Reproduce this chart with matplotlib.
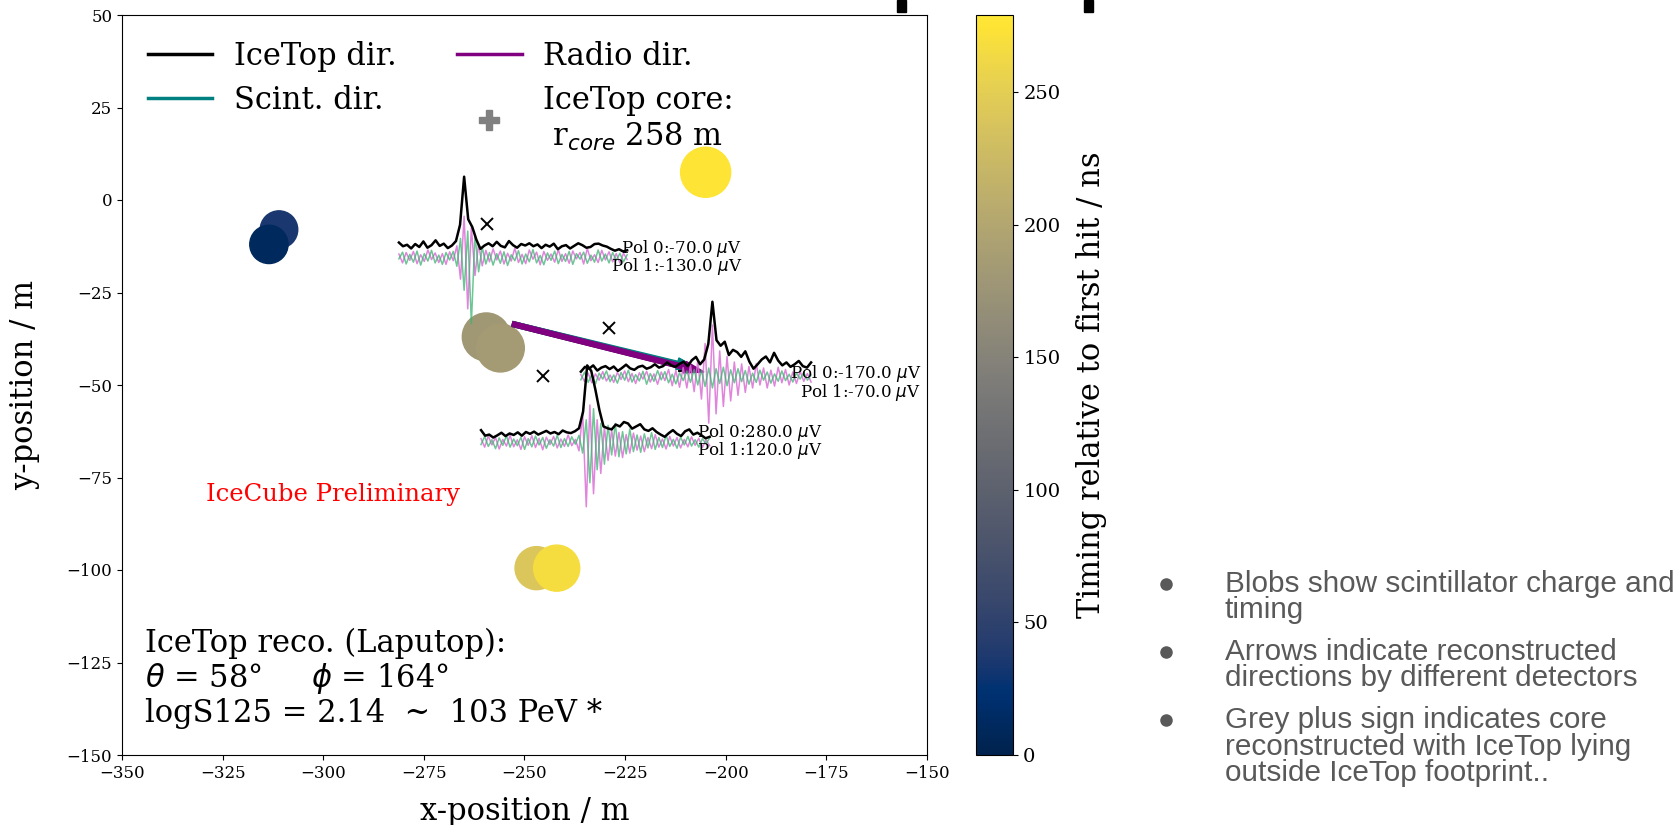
import numpy as np
import matplotlib.pyplot as plt
from matplotlib.lines import Line2D
from matplotlib.patches import Rectangle

plt.rcParams['font.family'] = 'DejaVu Serif'

W, H = 1681, 825

# scintillator panels: position / m, timing / ns, marker area (charge)
blob_x = [-311.0, -313.5, -259.5, -256.0, -205.0, -247.0, -242.0]
blob_y = [-8.0, -12.0, -37.0, -40.0, 7.5, -99.5, -99.5]
blob_t = [35, 10, 180, 185, 275, 240, 268]
blob_size = [730, 760, 1190, 1190, 1300, 960, 1100]

# radio antennas
ant_x = [-259.2, -229.0, -245.4]
ant_y = [-6.5, -34.6, -47.6]
pol0_amp = [-70.0, -170.0, 280.0]
pol1_amp = [-130.0, -70.0, 120.0]

# reconstructed directions (start point + vector), drawn as arrows
dir_names = ['IceTop dir.', 'Scint. dir.', 'Radio dir.']
dir_colors = ['black', 'teal', 'purple']
dir_x0 = [-253.0, -253.0, -253.0]
dir_y0 = [-33.5, -33.5, -33.5]
dir_dx = [46.5, 45.8, 47.6]
dir_dy = [-12.6, -12.0, -13.0]

# waveform envelopes (hilbert) and traces for each antenna, in plot units
env = [
    [1.2, 0.2, 0.6, -0.4, 0.8, 0.0, 1.5, -0.2, 0.5, 1.8, 0.3, 0.9, -0.3, 0.4, 1.6,
     6.0, 19.0, 7.5, 5.4, 2.0, -0.5, 0.4, 1.0, 0.2, 1.4, 0.3, -0.1, 1.6, 0.5, -0.2,
     0.8, 0.4, 1.0, 0.2, 0.7, -0.3, 0.6, 0.1, 0.9, -0.6, 0.2, 0.5, -0.4, 0.3, 1.0,
     0.5, -0.2, 0.0, 0.8, 0.9, 0.4, 0.1, -0.5, -1.0, -0.6, -1.2, -0.9],
    [-0.5, 0.8, 0.3, 1.2, -0.2, 0.6, 1.0, 0.2, 0.9, -0.3, 0.5, 1.4, 0.4, 0.0, 0.8,
     1.1, 0.3, 0.7, 1.5, 0.6, 1.0, 2.0, 1.2, 0.8, 1.6, 2.2, 1.0, 2.6, 3.5, 1.5,
     2.8, 7.0, 18.4, 8.0, 6.5, 7.6, 4.0, 5.4, 4.8, 3.5, 5.0, 2.2, 0.3, 1.5, 2.8,
     3.6, 2.0, 4.6, 2.5, 1.2, 2.0, 0.8, 1.5, 2.4, 1.0, 0.6, 2.0],
    [1.0, -0.5, -0.2, -1.0, -0.4, 0.3, -0.6, 0.1, -0.3, 0.4, -0.5, 0.5, 0.0, 0.6,
     -0.2, 0.3, 0.8, 0.1, 0.5, -0.1, 0.9, 0.4, 0.2, 0.7, 1.5, 6.0, 18.5, 17.0, 12.0,
     6.4, 2.0, 1.5, 1.2, 2.5, 2.0, 3.2, 2.8, 1.4, 2.0, 2.6, 1.2, 0.8, 1.5, 0.5,
     -0.2, -0.8, 0.2, 1.0, 0.0, -0.6, 0.7, 1.2, -0.2, 0.3, -0.4, -1.2, -0.8],
]
pol0 = [
    [0.8, -1.6, 1.2, -0.9, 1.5, -1.8, 0.6, -1.2, 1.9, -0.7, 1.1, -1.5, 0.9, -2.0,
     1.4, -1.0, 3.0, -6.0, 11.0, -14.0, 8.0, -5.0, 3.5, -2.4, 1.8, -1.3, 2.2, -0.8,
     1.6, -1.9, 1.0, -1.1, 2.4, -1.5, 0.7, -1.8, 1.9, -0.6, 1.3, -2.1, 1.5, -0.9,
     0.8, -1.4, 2.0, -1.2, 0.9, -1.7, 1.6, -0.5, 1.2, -1.9, 2.3, -1.0, 0.6, -1.5,
     1.8, -0.8, 1.4, -1.3, 0.9, -1.6, 1.0, -0.7],
    [0.6, -1.2, 1.0, -1.6, 0.8, -0.9, 1.4, -1.1, 0.5, -1.5, 1.2, -0.7, 1.6, -1.3,
     0.9, -1.8, 1.1, -0.6, 1.5, -1.4, 0.8, -2.0, 1.3, -1.0, 2.0, -2.4, 1.7, -2.8,
     2.5, -3.0, 3.2, -4.0, 4.5, -6.0, 9.0, -12.5, 14.0, -10.0, 7.0, -8.0, 5.5, -6.5,
     4.0, -5.0, 3.5, -4.2, 2.8, -3.0, 3.6, -2.2, 2.4, -3.0, 1.8, -2.5, 2.6, -1.6,
     2.0, -2.2, 1.3, -1.8, 1.5, -1.2, 0.9, -1.4],
    [0.9, -1.4, 1.6, -0.8, 1.2, -1.9, 0.7, -1.1, 1.8, -1.3, 0.6, -2.0, 1.4, -0.9,
     1.7, -1.5, 1.0, -2.1, 1.3, -0.7, 1.5, -1.6, 0.8, -1.2, 1.9, -1.0, 0.7, -2.4,
     8.0, -17.5, 10.0, -14.0, 6.0, -8.5, 4.0, -5.0, 3.2, -3.8, 2.6, -4.2, 2.0, -3.0,
     2.4, -2.2, 1.6, -2.6, 1.2, -1.8, 2.0, -1.4, 0.8, -1.9, 1.5, -1.1, 1.2, -1.6,
     0.7, -1.3, 1.4, -0.9, 1.0, -1.5, 0.6, -1.0],
]
pol1 = [
    [-0.5, 1.3, -1.9, 0.7, -1.4, 1.6, -2.2, 0.9, -1.1, 1.8, -1.6, 0.5, -2.0, 1.2,
     -0.8, 1.5, -2.5, 5.0, -9.0, 7.0, -18.0, 6.0, -4.0, 2.6, -1.9, 1.2, -2.2, 0.9,
     -1.7, 1.4, -2.3, 0.6, -1.0, 1.7, -1.9, 0.8, -1.3, 2.0, -1.6, 0.4, -2.1, 1.1,
     -0.9, 1.6, -1.8, 0.7, -1.2, 1.5, -2.0, 0.9, -0.6, 1.3, -1.7, 0.5, -1.4, 1.9,
     -1.1, 0.8, -1.6, 1.2, -0.9, 1.0, -1.3, 0.6],
    [-0.8, 1.3, -1.5, 0.7, -1.9, 1.0, -0.6, 1.6, -1.3, 0.5, -1.7, 1.2, -0.9, 1.8,
     -1.4, 0.6, -1.1, 1.5, -2.0, 0.9, -1.2, 1.7, -0.8, 1.4, -1.6, 0.7, -1.9, 1.1,
     -1.0, 1.6, -1.5, 2.0, -2.2, 1.8, -2.6, 2.4, -3.0, 2.2, -1.8, 2.6, -2.4, 1.9,
     -1.6, 2.2, -1.3, 1.7, -2.0, 1.0, -1.5, 1.8, -0.9, 1.3, -1.7, 0.8, -1.2, 1.6,
     -1.0, 0.7, -1.4, 1.1, -0.6, 1.2, -0.9, 0.5],
    [-0.7, 1.5, -1.2, 0.6, -1.8, 1.1, -0.9, 1.7, -1.4, 0.8, -1.0, 1.3, -2.0, 0.9,
     -1.3, 1.6, -0.8, 1.2, -1.7, 0.6, -1.1, 1.8, -1.5, 0.9, -1.2, 1.4, -0.6, 1.8,
     -3.0, 6.0, -11.0, 9.0, -7.5, 5.0, -6.0, 4.5, -3.5, 5.0, -4.0, 2.8, -3.2, 3.5,
     -2.6, 1.9, -2.8, 2.2, -1.6, 2.5, -2.0, 1.2, -1.5, 1.8, -1.2, 0.7, -1.7, 1.3,
     -0.8, 1.5, -1.1, 0.6, -1.4, 0.9, -0.5, 1.1],
]

# where each waveform inset sits in the map
wave_x0 = [-281.2, -236.0, -260.8]
wave_x1 = [-224.5, -178.8, -204.0]
env_base = [-12.7, -45.9, -63.2]
trace_base = [-15.4, -47.8, -65.4]
label_x = [-196.0, -151.5, -176.0]
label_y = [-13.0, -47.0, -62.8]

bullets = [
    ['Blobs show scintillator charge and', 'timing'],
    ['Arrows indicate reconstructed', 'directions by different detectors'],
    ['Grey plus sign indicates core', 'reconstructed with IceTop lying',
     'outside IceTop footprint..'],
]

fig = plt.figure(figsize=(W / 100, H / 100), dpi=100)
ax = fig.add_axes([122 / W, 70 / H, 805 / W, 740 / H])
cax = fig.add_axes([976 / W, 70 / H, 37.5 / W, 740 / H])

sc = ax.scatter(blob_x, blob_y, c=blob_t, s=blob_size, cmap='cividis',
                vmin=0, vmax=279, zorder=2)

for i in range(3):
    ax.arrow(dir_x0[i], dir_y0[i], dir_dx[i], dir_dy[i], color=dir_colors[i],
             width=1.3, head_width=3.2, head_length=5.0,
             length_includes_head=True, zorder=3)

ax.plot(ant_x, ant_y, 'x', color='black', ms=9, mew=1.4, zorder=5)

for i in range(3):
    xe = np.linspace(wave_x0[i], wave_x1[i], len(env[i]))
    xp = np.linspace(wave_x0[i], wave_x1[i], len(pol0[i]))
    ax.plot(xp, trace_base[i] + np.array(pol0[i]), color='orchid', lw=1.1,
            alpha=0.85, zorder=4)
    ax.plot(xp, trace_base[i] + np.array(pol1[i]), color='mediumseagreen', lw=1.1,
            alpha=0.75, zorder=4)
    ax.plot(xe, env_base[i] + np.array(env[i]), color='black', lw=1.8, zorder=4)
    ax.text(label_x[i], label_y[i], f'Pol 0:{pol0_amp[i]:.1f} $\\mu$V',
            ha='right', va='center', fontsize=12, zorder=6)
    ax.text(label_x[i], label_y[i] - 5.0, f'Pol 1:{pol1_amp[i]:.1f} $\\mu$V',
            ha='right', va='center', fontsize=12, zorder=6)

ax.text(-329.1, -79.7, 'IceCube Preliminary', color='red', fontsize=17.5,
        va='center')
ax.text(-344.4, -129.3,
        'IceTop reco. (Laputop):\n$\\theta$ = 58°     $\\phi$ = 164°\n'
        'logS125 = 2.14  ~  103 PeV *',
        fontsize=22, va='center', linespacing=1.07)

handles = [Line2D([], [], color=dir_colors[0], lw=2.5),
           Line2D([], [], color=dir_colors[1], lw=2.5),
           Line2D([], [], color=dir_colors[2], lw=2.5),
           Line2D([], [], ls='', marker='P', color='grey', ms=15)]
labels = [dir_names[0], dir_names[1], dir_names[2],
          'IceTop core:\n r$_{core}$ 258 m']
ax.legend(handles, labels, ncol=2, loc='upper left', frameon=False,
          fontsize=22, handlelength=2.1, columnspacing=2.0,
          handletextpad=0.7, borderaxespad=0.45, labelspacing=0.42)

ax.set_xlim(-350, -150)
ax.set_ylim(-150, 50)
ax.set_xticks(np.arange(-350, -149, 25))
ax.set_yticks(np.arange(-150, 51, 25))
ax.tick_params(labelsize=12)
ax.set_xlabel('x-position / m', fontsize=22, labelpad=10)
ax.set_ylabel('y-position / m', fontsize=22, labelpad=19)

cbar = fig.colorbar(sc, cax=cax)
cbar.set_ticks([0, 50, 100, 150, 200, 250])
cbar.ax.tick_params(labelsize=14)
cbar.set_label('Timing relative to first hit / ns', fontsize=22, labelpad=11)

# bullet notes on the right
line_y = [[584, 610], [652, 677.5], [720, 747, 773]]
for item, ys in zip(bullets, line_y):
    fig.add_artist(Line2D([1166 / W], [1 - ys[0] / H], transform=fig.transFigure,
                          marker='o', ms=8, color='#595959', ls=''))
    for txt, yy in zip(item, ys):
        fig.text(1225 / W, 1 - yy / H, txt, family='Liberation Sans',
                 fontsize=21.4, color='#595959', va='center')

for x0 in [897, 1084]:
    fig.add_artist(Rectangle((x0 / W, 1 - 12 / H), 9 / W, 12 / H,
                             transform=fig.transFigure, color='black'))

fig.savefig('out.png', dpi=100)
